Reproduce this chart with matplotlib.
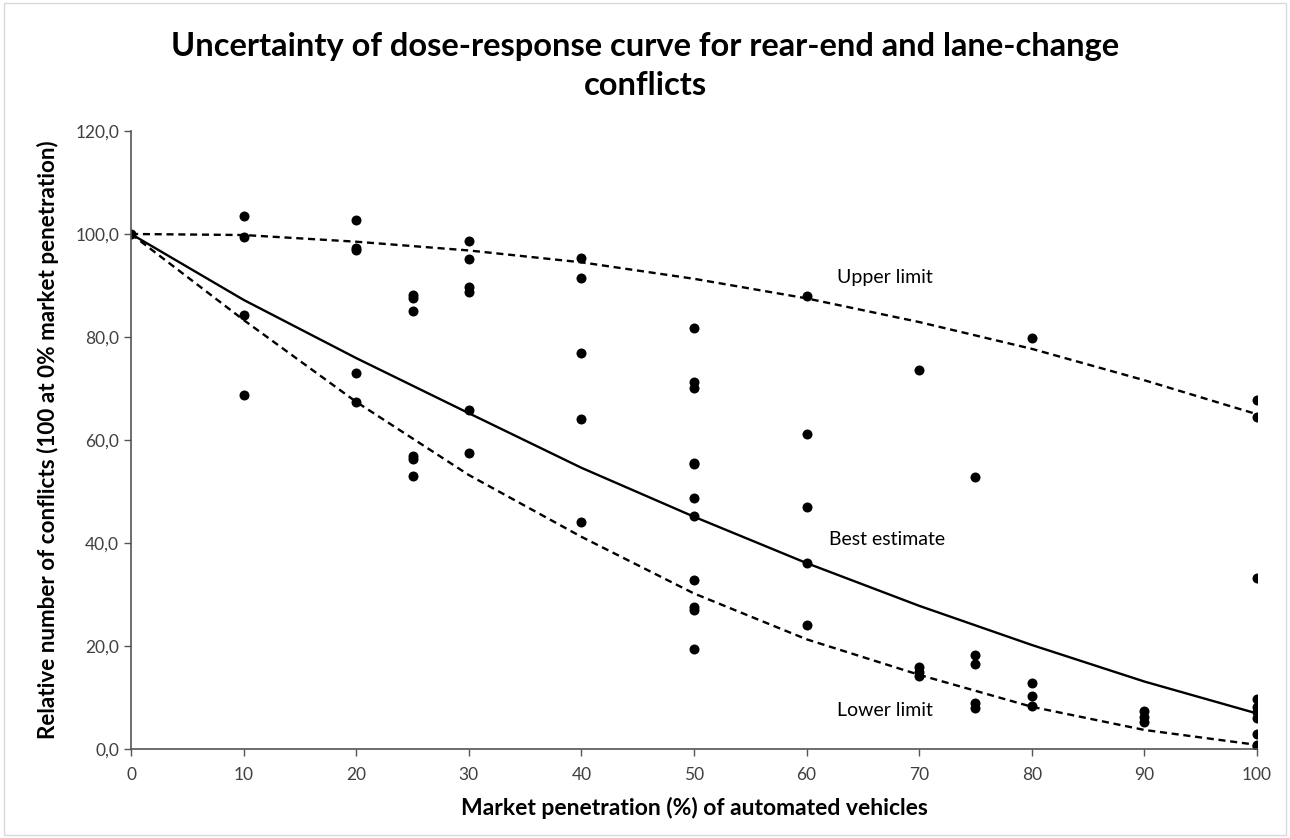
import matplotlib
matplotlib.use('Agg')
import matplotlib.pyplot as plt
from matplotlib.ticker import FuncFormatter
from matplotlib.patches import Rectangle

plt.rcParams['font.family'] = ['Lato', 'DejaVu Sans']

# observed points (market penetration %, relative conflicts)
obs_x = [0,
         10, 10, 10, 10,
         20, 20, 20, 20, 20,
         25, 25, 25, 25, 25, 25,
         30, 30, 30, 30, 30, 30,
         40, 40, 40, 40, 40,
         50, 50, 50, 50, 50, 50, 50, 50, 50, 50, 50,
         60, 60, 60, 60, 60,
         70, 70, 70, 70,
         75, 75, 75, 75, 75,
         80, 80, 80, 80,
         90, 90, 90,
         100, 100, 100, 100, 100, 100, 100, 100, 100, 100]
obs_y = [100.0,
         103.5, 99.4, 84.3, 68.7,
         102.7, 97.3, 96.9, 73.0, 67.4,
         88.2, 87.6, 85.0, 56.9, 56.3, 53.0,
         98.6, 95.1, 89.7, 88.7, 65.8, 57.5,
         95.3, 91.5, 76.9, 64.1, 44.1,
         81.7, 71.3, 70.0, 55.6, 55.3, 48.8, 45.2, 32.9, 27.6, 27.0, 19.5,
         88.0, 61.2, 47.0, 36.1, 24.1,
         73.6, 16.0, 15.0, 14.2,
         52.8, 18.3, 16.6, 8.9, 7.9,
         79.8, 12.9, 10.2, 8.3,
         7.4, 6.3, 5.3,
         67.8, 64.5, 33.2, 9.7, 8.2, 7.1, 6.0, 2.9, 0.8, 0.5]

# fitted curves
curve_x = [0, 10, 20, 30, 40, 50, 60, 70, 80, 90, 100]
best = [100.0, 87.2, 75.9, 65.2, 54.6, 45.1, 36.1, 27.8, 20.2, 13.1, 6.9]
upper = [100.0, 99.8, 98.5, 96.8, 94.5, 91.3, 87.5, 82.9, 77.7, 71.6, 65.0]
lower = [100.0, 83.3, 67.4, 53.2, 41.2, 30.2, 21.3, 14.4, 8.2, 3.7, 0.8]

fig = plt.figure(figsize=(12.9, 8.38), dpi=100)
ax = fig.add_axes([0.1016, 0.1062, 0.8728, 0.7375])

ax.plot(curve_x, upper, color='black', lw=1.7, ls=(0, (3, 2)))
ax.plot(curve_x, lower, color='black', lw=1.7, ls=(0, (3, 2)))
ax.plot(curve_x, best, color='black', lw=1.7)
ax.plot(obs_x, obs_y, 'o', color='black', markersize=7.2, markeredgewidth=0)

ax.text(62.7, 91.5, 'Upper limit', fontsize=14, va='center')
ax.text(62.0, 40.6, 'Best estimate', fontsize=14, va='center')
ax.text(62.7, 7.4, 'Lower limit', fontsize=14, va='center')

ax.set_xlim(0, 100)
ax.set_ylim(0, 120)
ax.set_xticks(range(0, 101, 10))
ax.set_yticks(range(0, 121, 20))
ax.yaxis.set_major_formatter(FuncFormatter(lambda v, p: f'{v:.1f}'.replace('.', ',')))
ax.tick_params(direction='out', length=5, color='#555555', labelsize=12.5,
               labelcolor='#404040', width=1)
ax.tick_params(axis='x', pad=8)
for s in ['top', 'right']:
    ax.spines[s].set_visible(False)
for s in ['left', 'bottom']:
    ax.spines[s].set_color('#555555')
    ax.spines[s].set_linewidth(1.2)

ax.set_xlabel('Market penetration (%) of automated vehicles', fontsize=16.5,
              fontweight='bold', labelpad=10)
ax.set_ylabel('Relative number of conflicts (100 at 0% market penetration)',
              fontsize=16.2, fontweight='bold', labelpad=12)
fig.suptitle('Uncertainty of dose-response curve for rear-end and lane-change\nconflicts',
             x=0.5, y=0.962, fontsize=23.5, fontweight='bold', linespacing=1.42)

fig.patches.append(Rectangle((0.003, 0.003), 0.994, 0.994, transform=fig.transFigure,
                             fill=False, edgecolor='#d9d9d9', lw=1))

fig.savefig('out.png', dpi=100)
